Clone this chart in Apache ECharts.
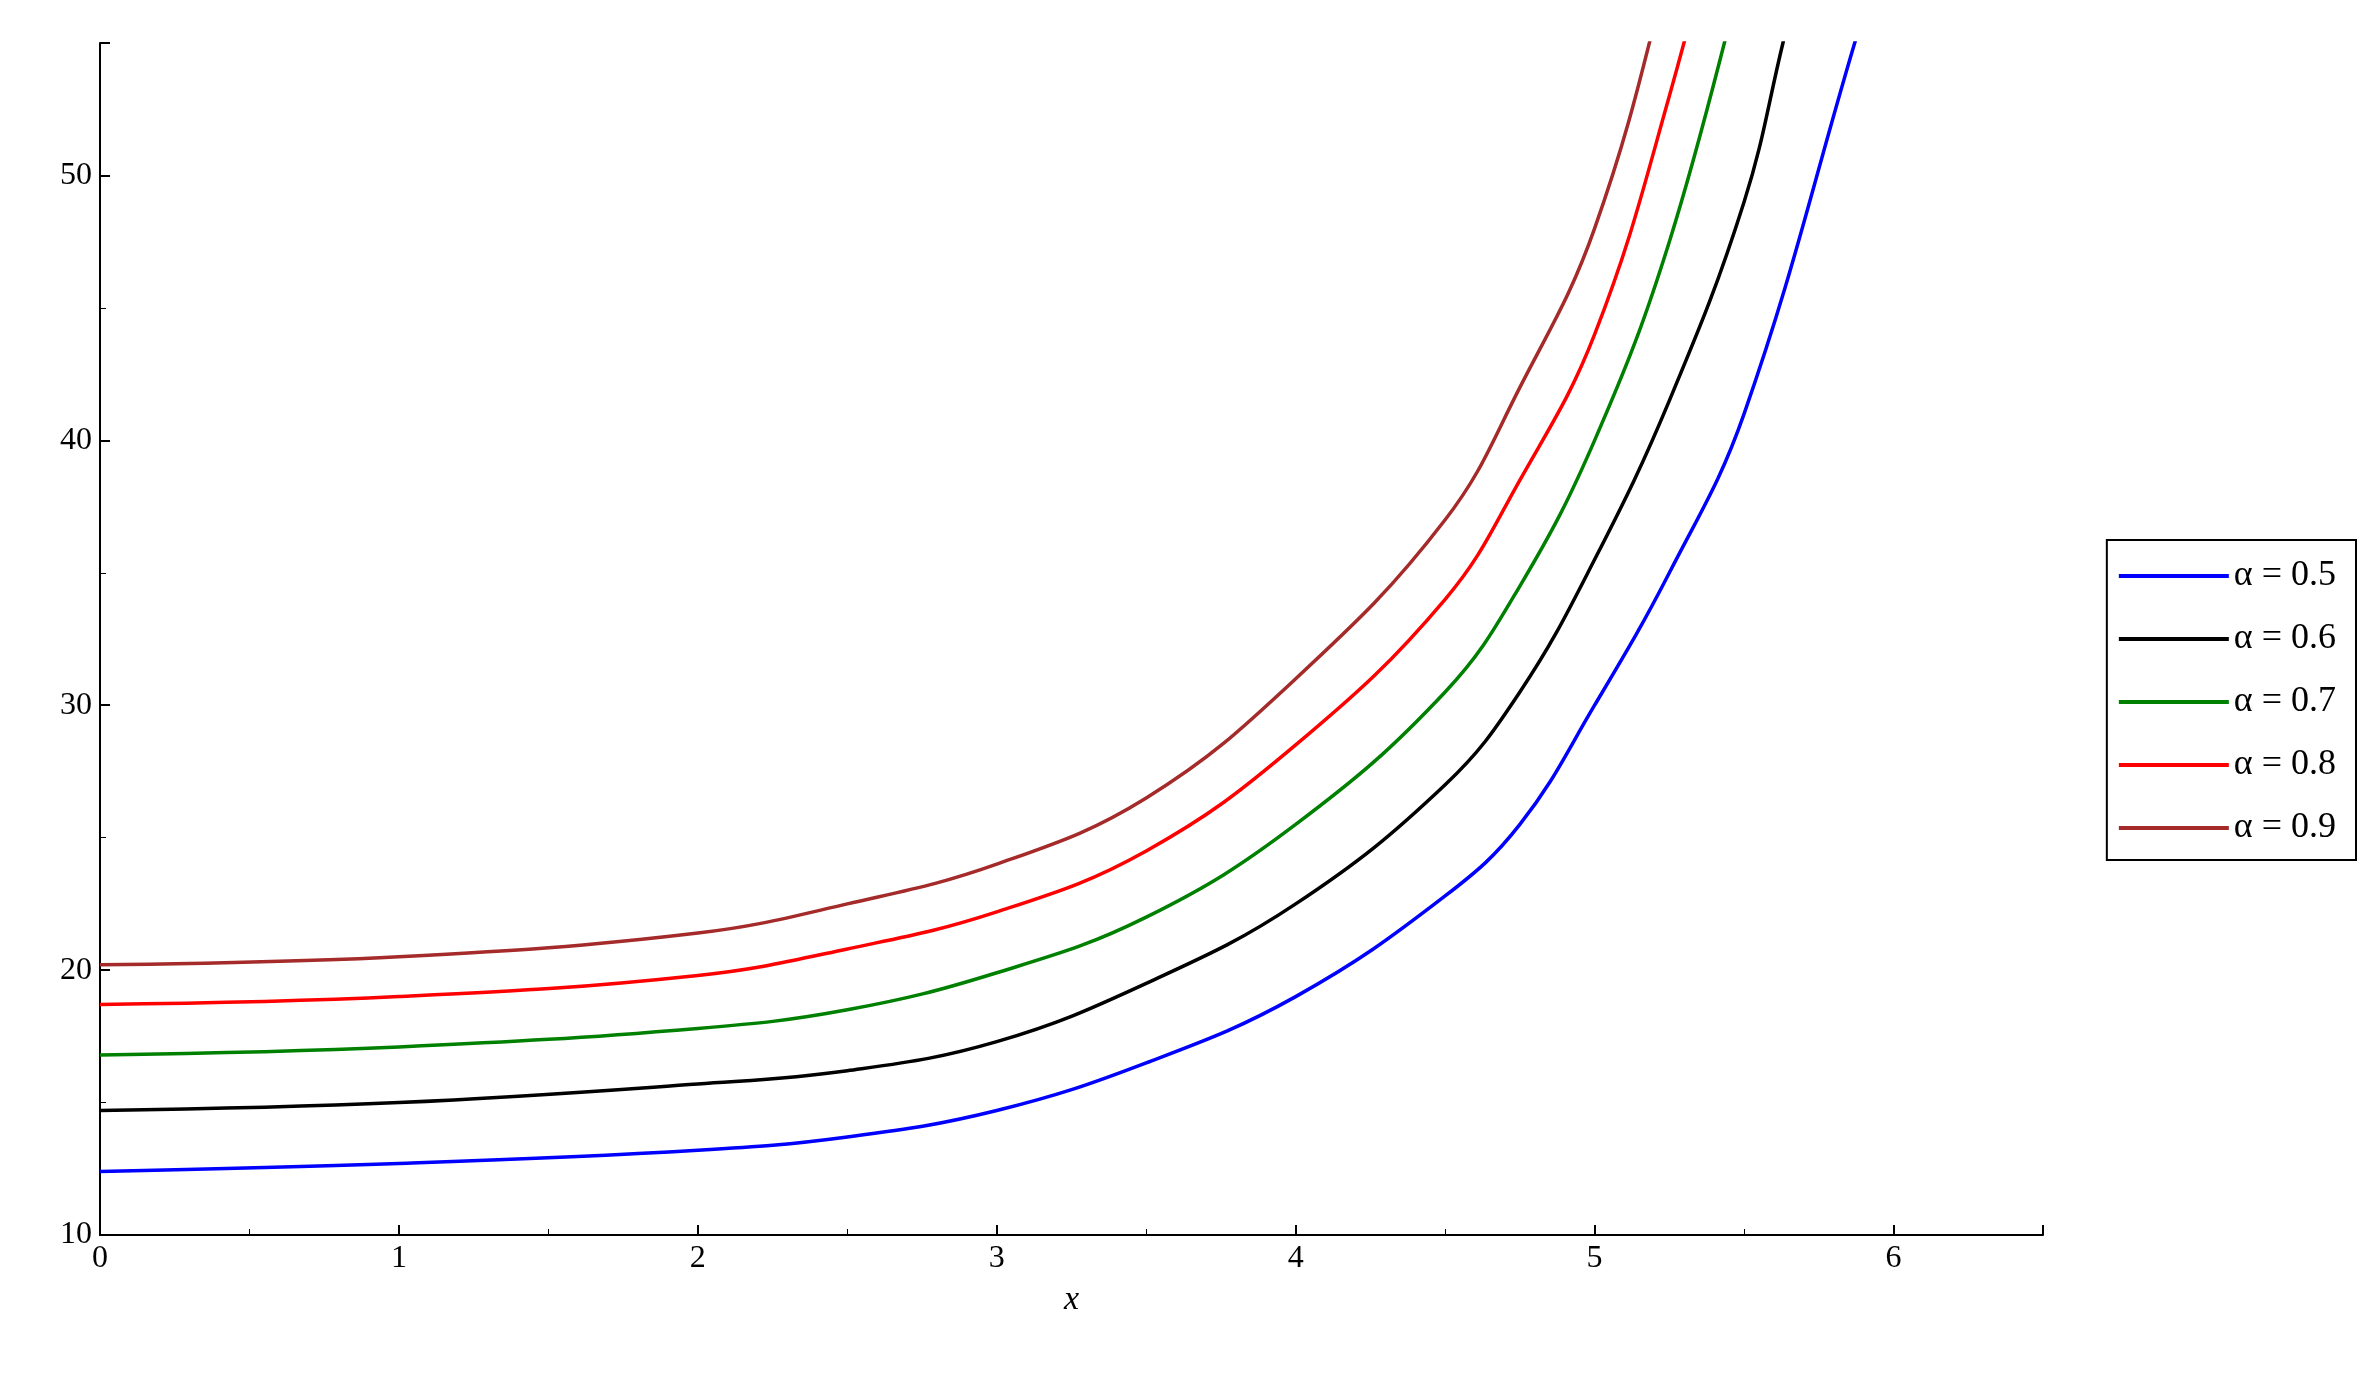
<!DOCTYPE html>
<html>
<head>
<meta charset="utf-8">
<script src="https://cdn.jsdelivr.net/npm/echarts@6/dist/echarts.min.js"></script>
<style>
html,body{margin:0;padding:0;background:#fff;}
#chart{width:2378px;height:1383px;}
</style>
</head>
<body>
<div id="chart"></div>
<script>
// values
var xs      = [0, 1, 2, 2.5, 3, 3.5, 4, 4.5, 4.75, 5, 5.25, 5.5];
var a05 = [12.4, 12.7, 13.2, 13.7, 14.7, 16.5, 19.0, 22.8, 25.5, 30.0, 35.0, 41.0];
var a06 = [14.7, 15.0, 15.7, 16.2, 17.3, 19.5, 22.5, 27.0, 30.5, 35.5, 41.5, 49.0];
var a07 = [16.8, 17.1, 17.8, 18.5, 19.9, 22.0, 25.5, 30.5, 34.5, 40.0, 47.5, 58.0];
var a08 = [18.7, 19.0, 19.8, 20.8, 22.2, 24.5, 28.5, 34.0, 38.5, 44.0, 53.0, 64.0];
var a09 = [20.2, 20.5, 21.4, 22.5, 24.0, 26.5, 31.0, 37.0, 42.0, 48.0, 58.0, 70.0];
var tail05 = [[5.87, 55], [6.0, 60]];
var tail06 = [[5.63, 55], [5.8, 63]];

var names = ['α = 0.5', 'α = 0.6', 'α = 0.7', 'α = 0.8', 'α = 0.9'];
var colors = ['#0000ff', '#000000', '#008000', '#ff0000', '#a52a2a'];
var sets = [a05, a06, a07, a08, a09];

function pairs(ys, extra){
    var out = xs.map(function(x, i){ return [x, ys[i]]; });
    return extra ? out.concat(extra) : out;
}

var chart = echarts.init(document.getElementById('chart'));
var font = 'Liberation Serif';
var option = {
    animation: false,
    color: colors,
    grid: {left: 100, right: 335, top: 43, bottom: 148},
    legend: {
        orient: 'vertical',
        right: 22, top: 540,
        itemWidth: 110, itemHeight: 4, itemGap: 27,
        padding: [18, 20, 14, 12],
        borderColor: '#000', borderWidth: 2,
        icon: 'rect',
        textStyle: {fontFamily: font, fontSize: 36, color: '#000'},
        data: names
    },
    xAxis: {
        type: 'value', min: 0, max: 6.5, interval: 1,
        name: 'x', nameLocation: 'middle', nameGap: 48,
        nameTextStyle: {fontFamily: font, fontStyle: 'italic', fontSize: 34, color: '#000'},
        axisLine: {onZero: false, lineStyle: {color: '#000', width: 2}},
        axisTick: {inside: true, length: 10, lineStyle: {color: '#000', width: 2}},
        minorTick: {show: true, splitNumber: 2, length: 6, lineStyle: {color: '#000'}},
        axisLabel: {fontFamily: font, fontSize: 32, color: '#000', showMaxLabel: false,
            formatter: function(v){ return v > 6 ? '' : v; }},
        splitLine: {show: false}
    },
    yAxis: {
        type: 'value', min: 10, max: 55, interval: 10,
        axisLine: {show: true, lineStyle: {color: '#000', width: 2}},
        axisTick: {inside: true, length: 10, lineStyle: {color: '#000', width: 2}},
        minorTick: {show: true, splitNumber: 2, length: 6, lineStyle: {color: '#000'}},
        axisLabel: {fontFamily: font, fontSize: 32, color: '#000', showMaxLabel: false,
            formatter: function(v){ return v > 50 ? '' : v; }},
        splitLine: {show: false}
    },
    series: sets.map(function(ys, i){
        var extra = i === 0 ? tail05 : (i === 1 ? tail06 : null);
        var d = pairs(ys, extra);
        if (i === 0) d = d.filter(function(p){ return p[0] !== 5.5 || true; });
        return {
            name: names[i], type: 'line', smooth: 0.4, showSymbol: false,
            clip: true, lineStyle: {width: 3.5}, data: d
        };
    })
};
chart.setOption(option);
</script>
</body>
</html>
